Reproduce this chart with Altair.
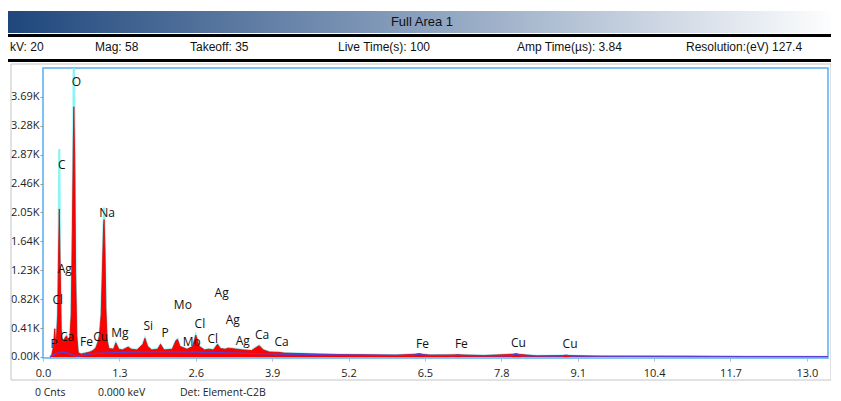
import altair as alt
import pandas as pd

# ---------------- data ----------------
ENERGY_KEV = [0.12, 0.15, 0.18, 0.20, 0.22, 0.25, 0.265, 0.277, 0.29, 0.31, 0.33,
              0.36, 0.40, 0.43, 0.46, 0.48, 0.50, 0.515, 0.525, 0.54, 0.555, 0.575,
              0.60, 0.65, 0.70, 0.80, 0.85, 0.90, 0.93, 0.96, 0.99, 1.01, 1.03, 1.04,
              1.055, 1.07, 1.09, 1.12, 1.20, 1.24, 1.29, 1.35, 1.45, 1.50, 1.60, 1.70,
              1.735, 1.78, 1.85, 1.95, 2.00, 2.06, 2.20, 2.26, 2.29, 2.33, 2.45, 2.55,
              2.60, 2.66, 2.75, 2.82, 2.90, 2.97, 3.02, 3.10, 3.15, 3.30, 3.40, 3.55,
              3.62, 3.68, 3.75, 3.85, 4.01, 4.10, 4.50, 5.00, 5.50, 6.00, 6.40, 6.60,
              7.06, 7.50, 8.05, 8.40, 8.90, 9.50, 10.5, 12.0, 13.36]
COUNTS = [0, 30, 150, 400, 120, 600, 1500, 2100, 1400, 400, 200,
          250, 300, 220, 300, 600, 1800, 3000, 3550, 2800, 1200, 300,
          60, 40, 50, 70, 90, 130, 200, 300, 600, 1200, 1850, 1950,
          1500, 700, 250, 120, 110, 200, 110, 100, 140, 110, 100, 180,
          265, 150, 100, 110, 180, 100, 110, 230, 250, 150, 110, 150,
          310, 150, 100, 110, 100, 180, 120, 110, 125, 110, 100, 90,
          130, 160, 100, 70, 65, 55, 45, 35, 30, 25, 40, 25,
          30, 20, 40, 15, 20, 10, 8, 5, 3]
# outline trace (cyan) reaches higher on the three main peaks
OUTLINE_PEAKS = {0.277: 2950, 0.525: 4300, 1.04: 2120}

BG_KEV = [0.12, 0.20, 0.30, 0.40, 0.50, 0.60, 0.70, 0.90, 1.20, 1.60, 2.00, 2.50,
          3.00, 3.50, 4.00, 5.00, 6.00, 6.30, 6.40, 6.50, 7.00, 7.06, 7.12, 7.95,
          8.05, 8.15, 8.80, 8.90, 9.00, 10.0, 11.0, 12.0, 13.36]
BG_COUNTS = [0, 40, 70, 60, 30, 10, 30, 50, 60, 70, 72, 70,
             60, 50, 40, 30, 22, 25, 45, 25, 18, 30, 18, 15,
             45, 15, 12, 25, 11, 8, 6, 5, 4]

PEAK_LABELS = ["O", "C", "Na", "Ag", "Cl", "P", "Ca", "Fe", "Cu", "Mg", "Si", "P",
               "Mo", "Mo", "Cl", "Ag", "Cl", "Ag", "Ag", "Ca", "Ca", "Fe", "Fe",
               "Cu", "Cu"]
PEAK_LABEL_KEV = [0.57, 0.32, 1.09, 0.37, 0.25, 0.19, 0.41, 0.74, 0.98, 1.31, 1.79,
                  2.08, 2.38, 2.53, 2.67, 3.04, 2.89, 3.23, 3.40, 3.73, 4.06, 6.46,
                  7.12, 8.09, 8.97]
PEAK_LABEL_COUNTS = [3900, 2720, 2045, 1250, 809, 185, 290, 213, 280, 345, 433,
                     340, 738, 213, 465, 908, 255, 525, 230, 312, 215, 190, 178,
                     200, 185]

X_TICKS = [0.0, 1.3, 2.6, 3.9, 5.2, 6.5, 7.8, 9.1, 10.4, 11.7, 13.0]
Y_TICKS = [0, 410, 820, 1230, 1640, 2050, 2460, 2870, 3280, 3690]

TITLE = "Full Area 1"
INFO = ["kV: 20", "Mag: 58", "Takeoff: 35", "Live Time(s): 100",
        "Amp Time(µs): 3.84", "Resolution:(eV) 127.4"]
FOOTER = ["0 Cnts", "0.000 keV", "Det: Element-C2B"]

# ---------------- build ----------------
spec = pd.DataFrame({"keV": ENERGY_KEV, "counts": COUNTS})
spec["outline"] = [OUTLINE_PEAKS.get(e, c) for e, c in zip(ENERGY_KEV, COUNTS)]
bg = pd.DataFrame({"keV": BG_KEV, "counts": BG_COUNTS})
peaks = pd.DataFrame({"label": PEAK_LABELS, "keV": PEAK_LABEL_KEV,
                      "counts": PEAK_LABEL_COUNTS})

FONT = "Open Sans"
xs = alt.Scale(domain=[0, 13.36], nice=False, zero=False)
ys = alt.Scale(domain=[-15, 4100], nice=False, zero=False)

x_axis = alt.Axis(values=X_TICKS, format=".1f", title=None, grid=False, domain=False,
                  tickSize=3, tickColor="#bbbbbb", labelPadding=6)
y_axis = alt.Axis(values=Y_TICKS, labelExpr="format(datum.value/1000, '.2f') + 'K'",
                  title=None, grid=False, domain=False, tickSize=3,
                  tickColor="#999999", labelPadding=1)

outline = alt.Chart(spec).mark_line(color="#7ff3f3", strokeWidth=2.2, opacity=0.9,
                                    clip=True).encode(
    x=alt.X("keV:Q", scale=xs, axis=x_axis),
    y=alt.Y("outline:Q", scale=ys, axis=y_axis))
area = alt.Chart(spec).mark_area(color="#ff0000", opacity=1, clip=True,
                                 line={"color": "#e00000", "strokeWidth": 0.8}).encode(
    x=alt.X("keV:Q", scale=xs, axis=x_axis),
    y=alt.Y("counts:Q", scale=ys, axis=y_axis))
bgline = alt.Chart(bg).mark_line(color="#5a3fd0", strokeWidth=1.3, clip=True).encode(
    x=alt.X("keV:Q", scale=xs, axis=x_axis),
    y=alt.Y("counts:Q", scale=ys, axis=y_axis))
labels = alt.Chart(peaks).mark_text(font=FONT, fontSize=12, color="#111111",
                                    clip=True).encode(
    x=alt.X("keV:Q", scale=xs, axis=x_axis),
    y=alt.Y("counts:Q", scale=ys, axis=y_axis), text="label:N")

one = pd.DataFrame({"a": [0]})
grad = alt.Gradient(gradient="linear", x1=0, x2=1, y1=0, y2=0, stops=[
    alt.GradientStop(color="#1f477c", offset=0),
    alt.GradientStop(color="#8ba1be", offset=0.5),
    alt.GradientStop(color="#ffffff", offset=1)])
title_bar = alt.Chart(one).mark_rect(fill=grad, clip=False).encode(
    x=alt.value(-35), x2=alt.value(795), y=alt.value(-57), y2=alt.value(-35))
title_text = alt.Chart(one).mark_text(font="Liberation Sans", fontSize=13,
                                      color="#111111", clip=False).encode(
    x=alt.value(379), y=alt.value(-46), text=alt.value(TITLE))
line1 = alt.Chart(one).mark_rect(fill="#000000", clip=False).encode(
    x=alt.value(-35), x2=alt.value(795), y=alt.value(-34), y2=alt.value(-31))
line2 = alt.Chart(one).mark_rect(fill="#000000", clip=False).encode(
    x=alt.value(-35), x2=alt.value(795), y=alt.value(-9), y2=alt.value(-6))
box = alt.Chart(one).mark_rect(fill=None, stroke="#c4c4c4", strokeWidth=1,
                               clip=False).encode(
    x=alt.value(-32), x2=alt.value(788), y=alt.value(-4), y2=alt.value(312))

info_x = [-33, 52, 147, 295, 474, 643]
info_layers = [alt.Chart(one).mark_text(font="Liberation Sans", fontSize=12,
                                        color="#111111", align="left",
                                        clip=False).encode(
    x=alt.value(px), y=alt.value(-21), text=alt.value(t))
    for t, px in zip(INFO, info_x)]
foot_x = [-8, 55, 137]
foot_layers = [alt.Chart(one).mark_text(font=FONT, fontSize=10.5, color="#222222",
                                        align="left", clip=False).encode(
    x=alt.value(px), y=alt.value(325), text=alt.value(t))
    for t, px in zip(FOOTER, foot_x)]

chart = alt.layer(outline, area, bgline, labels, title_bar, title_text, line1, line2,
                  box, *info_layers, *foot_layers).properties(
    width=785, height=290,
    autosize=alt.AutoSizeParams(type="none"),
    padding={"left": 35, "top": 60, "right": 3, "bottom": 42},
    background="white",
).configure_view(stroke="#5aaef0", strokeWidth=1.5).configure_axis(
    labelOverlap=False, labelFont=FONT, labelFontSize=11, labelColor="#222222",
    labelFlush=False, labelBound=False)

chart.save("out.html", embed_options={"renderer": "svg", "actions": False})
